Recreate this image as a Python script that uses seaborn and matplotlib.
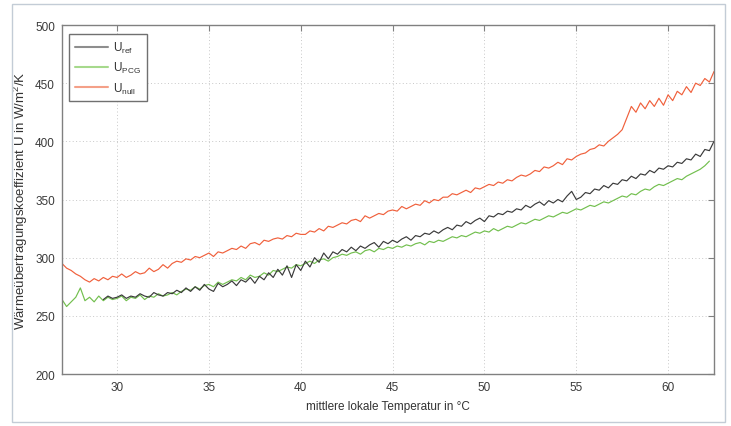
import matplotlib
matplotlib.use("Agg")
import matplotlib.pyplot as plt
from matplotlib.lines import Line2D
from matplotlib.patches import Rectangle
import seaborn as sns
import pandas as pd

# ---- data ----
temperature = [
    27.0, 27.25, 27.5, 27.75, 28.0, 28.25, 28.5, 28.75, 29.0, 29.25, 29.5, 29.75,
    30.0, 30.25, 30.5, 30.75, 31.0, 31.25, 31.5, 31.75, 32.0, 32.25, 32.5, 32.75,
    33.0, 33.25, 33.5, 33.75, 34.0, 34.25, 34.5, 34.75, 35.0, 35.25, 35.5, 35.75,
    36.0, 36.25, 36.5, 36.75, 37.0, 37.25, 37.5, 37.75, 38.0, 38.25, 38.5, 38.75,
    39.0, 39.25, 39.5, 39.75, 40.0, 40.25, 40.5, 40.75, 41.0, 41.25, 41.5, 41.75,
    42.0, 42.25, 42.5, 42.75, 43.0, 43.25, 43.5, 43.75, 44.0, 44.25, 44.5, 44.75,
    45.0, 45.25, 45.5, 45.75, 46.0, 46.25, 46.5, 46.75, 47.0, 47.25, 47.5, 47.75,
    48.0, 48.25, 48.5, 48.75, 49.0, 49.25, 49.5, 49.75, 50.0, 50.25, 50.5, 50.75,
    51.0, 51.25, 51.5, 51.75, 52.0, 52.25, 52.5, 52.75, 53.0, 53.25, 53.5, 53.75,
    54.0, 54.25, 54.5, 54.75, 55.0, 55.25, 55.5, 55.75, 56.0, 56.25, 56.5, 56.75,
    57.0, 57.25, 57.5, 57.75, 58.0, 58.25, 58.5, 58.75, 59.0, 59.25, 59.5, 59.75,
    60.0, 60.25, 60.5, 60.75, 61.0, 61.25, 61.5, 61.75, 62.0, 62.25, 62.5,
]

u_null = [
    295, 291, 289, 286, 284, 281, 279, 282, 280, 283, 281, 284,
    283, 286, 283, 285, 288, 286, 287, 291, 288, 290, 294, 291,
    295, 297, 296, 299, 298, 301, 300, 302, 304, 301, 305, 304,
    306, 308, 307, 310, 308, 312, 313, 311, 315, 314, 316, 317,
    316, 319, 318, 321, 320, 320, 323, 322, 325, 323, 327, 326,
    328, 330, 329, 332, 333, 331, 336, 334, 336, 338, 337, 340,
    341, 340, 344, 342, 344, 346, 345, 349, 347, 350, 349, 352,
    352, 355, 354, 356, 358, 356, 360, 359, 361, 363, 362, 365,
    364, 367, 366, 369, 371, 370, 372, 375, 374, 378, 377, 379,
    382, 380, 385, 384, 387, 389, 390, 393, 394, 397, 396, 400,
    403, 406, 410, 420, 430, 425, 433, 428, 435, 430, 437, 431,
    440, 435, 443, 440, 447, 442, 450, 448, 454, 451, 460,
]

u_ref = [
    264, 267, 265,
    266, 268, 265, 267, 266, 269, 267, 266, 270, 268, 267, 270,
    269, 272, 270, 274, 271, 275, 272, 277, 273, 271, 278, 275,
    277, 280, 276, 281, 279, 283, 278, 284, 281, 287, 283, 290,
    285, 293, 283, 294, 289, 297, 292, 300, 296, 304, 299, 305,
    303, 307, 305, 309, 306, 310, 308, 311, 313, 309, 314, 312,
    315, 313, 316, 318, 315, 319, 318, 321, 320, 323, 321, 324,
    326, 324, 328, 327, 331, 329, 332, 334, 331, 336, 335, 338,
    337, 340, 339, 342, 341, 345, 343, 346, 348, 345, 349, 347,
    350, 348, 353, 357, 350, 352, 356, 355, 359, 358, 362, 360,
    364, 363, 367, 366, 370, 368, 372, 371, 375, 373, 377, 376,
    379, 378, 382, 381, 385, 384, 389, 387, 393, 392, 400,
]

u_pcg = [
    264, 258, 262, 266, 274, 263, 266, 262, 267, 263, 266, 264,
    265, 267, 263, 266, 265, 268, 264, 267, 266, 269, 267, 268,
    270, 268, 271, 273, 272, 275, 273, 276, 277, 275, 279, 277,
    279, 281, 280, 283, 281, 285, 283, 284, 287, 285, 289, 288,
    290, 292, 291, 294, 293, 295, 297, 295, 298, 299, 297, 300,
    301, 303, 302, 304, 305, 303, 306, 307, 305, 308, 307, 309,
    308, 310, 309, 311, 310, 312, 313, 311, 314, 313, 315, 314,
    316, 318, 317, 319, 318, 320, 322, 321, 323, 322, 325, 323,
    325, 327, 326, 328, 330, 329, 331, 333, 332, 334, 336, 335,
    337, 339, 338, 340, 342, 341, 343, 345, 344, 346, 348, 347,
    349, 351, 353, 352, 355, 354, 357, 359, 358, 361, 363, 362,
    364, 366, 368, 367, 370, 372, 374, 376, 379, 383,
]

labels = [r"U$_{\mathrm{ref}}$", r"U$_{\mathrm{PCG}}$", r"U$_{\mathrm{null}}$"]
x_ticks = [30, 35, 40, 45, 50, 55, 60]
y_ticks = [200, 250, 300, 350, 400, 450, 500]

# ---- styling ----
sns.set_theme(style="white")
plt.rcParams["font.family"] = ["Liberation Sans", "DejaVu Sans"]
plt.rcParams["mathtext.fontset"] = "custom"
plt.rcParams["mathtext.rm"] = "Liberation Sans"

fig = plt.figure(figsize=(7.31, 4.27), dpi=100)
ax = fig.add_axes([62 / 731, 52 / 427, 652 / 731, 349 / 427])

# outer light frame
fig.patches.append(Rectangle((12 / 731, 4 / 427), 713 / 731, 418 / 427,
                             transform=fig.transFigure, fill=False,
                             edgecolor="#c3ccd6", linewidth=1.0))

c_ref, c_pcg, c_null = "#3a3a3a", "#72bf4e", "#f0603c"

df_pcg = pd.DataFrame({"T": temperature[:len(u_pcg)], "U": u_pcg})
df_ref = pd.DataFrame({"T": temperature[len(temperature) - len(u_ref):], "U": u_ref})
df_null = pd.DataFrame({"T": temperature[:len(u_null)], "U": u_null})

sns.lineplot(data=df_pcg, x="T", y="U", ax=ax, color=c_pcg, lw=0.85, legend=False)
sns.lineplot(data=df_ref, x="T", y="U", ax=ax, color=c_ref, lw=0.85, legend=False)
sns.lineplot(data=df_null, x="T", y="U", ax=ax, color=c_null, lw=0.85, legend=False)

ax.set_xlim(27, 62.5)
ax.set_ylim(200, 500)
ax.set_xticks(x_ticks)
ax.set_yticks(y_ticks)
ax.grid(True, linestyle=(0, (1, 2.5)), color="#c8c8c8", linewidth=0.7)
for s in ax.spines.values():
    s.set_color("#808080")
    s.set_linewidth(1.0)
ax.tick_params(direction="in", length=4, width=0.8, color="#808080",
               top=True, right=True, labelsize=8.5, labelcolor="#3a3a3a", pad=5)

ax.set_xlabel("mittlere lokale Temperatur in °C", fontsize=8.5, color="#333333", labelpad=5)
ax.set_ylabel("Wärmeübertragungskoeffizient U in W/m$^2$/K", fontsize=9.5,
              color="#333333", labelpad=4)

handles = [Line2D([], [], color="#8e8e8e", lw=1.5),
           Line2D([], [], color="#a6d98c", lw=1.5),
           Line2D([], [], color="#f4a088", lw=1.5)]
leg = ax.legend(handles, labels, loc="upper left", bbox_to_anchor=(0.002, 0.99),
                fontsize=8.5, frameon=True, fancybox=False, framealpha=1,
                edgecolor="#707070", handlelength=2.8, borderpad=0.45,
                labelspacing=0.45, handletextpad=0.5)
leg.get_frame().set_linewidth(1.0)
for t in leg.get_texts():
    t.set_color("#333333")

fig.savefig("out.png", dpi=100)
